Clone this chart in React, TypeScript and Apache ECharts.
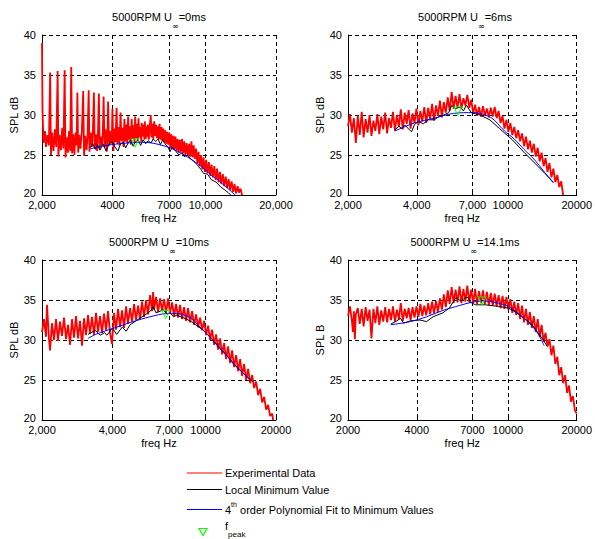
import React, { useEffect, useRef } from 'react';
import * as echarts from 'echarts';

const FONT = "'Liberation Sans', Arial, Helvetica, sans-serif";

// ---- text / axes ----
const speeds = ['0ms', '6ms', '10ms', '14.1ms'];
const yNames = ['SPL dB', 'SPL dB', 'SPL dB', 'SPL B'];
const xTickValues = [2000, 4000, 7000, 10000, 20000];
const xTickLabels = [
  ['2,000', '4000', '7000', '10,000', '20,000'],
  ['2,000', '4,000', '7,000', '10000', '20000'],
  ['2,000', '4,000', '7,000', '10000', '20000'],
  ['2000', '4000', '7000', '10000', '20000'],
];
const yMin = 20;
const yMax = 40;
const yStep = 5;

// ---- 0 m/s ----
const exp0: [number, number][] = [
  [2000, 39.0], [2010, 30.5], [2030, 26.5], [2060, 28.0], [2080, 26.0], [2110, 27.5], [2140, 26.2],
  [2167, 35.3], [2185, 25.0], [2210, 27.8], [2240, 25.5], [2270, 28.2], [2300, 26.0],
  [2333, 35.5], [2350, 24.8], [2380, 27.5], [2410, 25.6], [2440, 28.4], [2470, 25.8],
  [2500, 35.6], [2520, 24.7], [2550, 27.2], [2580, 25.3], [2610, 28.0], [2640, 25.5],
  [2667, 36.0], [2690, 25.2], [2720, 27.6], [2750, 25.0], [2780, 27.8], [2810, 26.2],
  [2833, 32.8], [2855, 25.3], [2890, 27.5], [2920, 25.8], [2960, 27.9],
  [3000, 33.0], [3025, 24.9], [3060, 27.4], [3100, 25.6], [3130, 27.2],
  [3167, 33.1], [3190, 25.4], [3230, 27.8], [3270, 26.0], [3300, 28.1],
  [3333, 32.8], [3360, 25.8], [3400, 27.6], [3440, 25.5], [3470, 27.9],
  [3500, 32.7], [3530, 25.8], [3570, 27.3], [3610, 26.2], [3640, 28.0],
  [3667, 32.3], [3700, 26.0], [3740, 28.2], [3780, 25.4], [3810, 27.6],
  [3833, 31.7], [3870, 26.2], [3910, 28.0], [3950, 26.4], [3980, 27.8],
  [4000, 30.8], [4040, 25.5], [4080, 28.3], [4120, 26.6],
  [4167, 30.9], [4200, 26.4], [4250, 28.5], [4290, 26.2],
  [4333, 30.3], [4370, 26.8], [4420, 28.4], [4460, 26.0],
  [4500, 29.5], [4540, 26.7], [4590, 28.8], [4630, 26.5],
  [4667, 29.8], [4710, 26.9], [4760, 28.6], [4800, 26.3],
  [4833, 29.5], [4880, 27.0], [4930, 28.7], [4970, 26.6],
  [5000, 29.8], [5050, 27.1], [5100, 28.9], [5140, 26.8],
  [5167, 29.6], [5220, 27.2], [5270, 28.5], [5310, 26.7],
  [5333, 29.0], [5380, 27.3], [5440, 28.8], [5480, 26.9],
  [5500, 29.2], [5550, 27.0], [5600, 28.6], [5640, 27.3],
  [5667, 28.8], [5720, 26.9], [5780, 28.7], [5833, 30.0], [5870, 27.2], [5930, 28.9],
  [5980, 27.0], [6030, 29.2], [6080, 27.4], [6140, 28.8], [6190, 27.1], [6250, 28.6],
  [6300, 27.0], [6360, 28.9], [6420, 26.9], [6480, 28.5], [6540, 26.8], [6600, 28.3],
  [6660, 26.6], [6720, 28.1], [6790, 26.4], [6860, 27.9], [6930, 26.3], [7000, 27.8],
  [7070, 25.9], [7140, 27.6], [7210, 25.8], [7290, 27.4], [7360, 25.7], [7440, 27.3],
  [7520, 25.6], [7600, 27.0], [7680, 25.3], [7760, 26.9], [7850, 25.4], [7930, 27.0],
  [8020, 25.2], [8110, 26.7], [8200, 25.0], [8300, 26.5], [8400, 24.9], [8500, 26.4],
  [8600, 24.8], [8700, 26.7], [8800, 24.7], [8900, 26.2], [9000, 24.5], [9110, 25.8],
  [9220, 24.0], [9330, 25.4], [9440, 23.6], [9560, 25.0], [9680, 23.2], [9800, 24.7],
  [9930, 22.9], [10060, 24.4], [10190, 22.7], [10330, 24.1], [10470, 22.4], [10610, 23.8],
  [10750, 22.2], [10900, 23.6], [11050, 21.9], [11200, 23.3], [11360, 21.6], [11520, 22.9],
  [11680, 21.4], [11850, 22.6], [12020, 21.1], [12190, 22.3], [12370, 20.9], [12550, 22.0],
  [12730, 20.6], [12920, 21.7], [13110, 20.4], [13300, 21.4], [13500, 20.2], [13700, 21.1],
  [13900, 20.3], [14100, 20.8], [14330, 20.0],
];
const min0: [number, number][] = [
  [3210, 25.9], [3300, 26.4], [3380, 25.7], [3450, 26.3], [3540, 25.6], [3640, 26.4],
  [3760, 25.5], [3870, 26.4], [3984, 26.7], [4100, 26.0], [4227, 25.5], [4330, 26.4],
  [4440, 26.6], [4560, 25.9], [4664, 26.5], [4780, 26.9], [4900, 26.1], [5000, 26.6],
  [5147, 26.9], [5280, 26.2], [5407, 26.9], [5550, 26.4], [5680, 26.8], [5850, 26.5],
  [5966, 27.0], [6130, 26.7], [6267, 27.0], [6420, 26.3], [6560, 26.9], [6700, 26.4],
  [6915, 26.0], [7050, 25.4], [7200, 26.0], [7450, 25.5], [7700, 25.0], [7940, 25.3],
  [8100, 24.8], [8350, 25.0], [8600, 24.6], [8900, 24.2], [9200, 23.8], [9550, 23.2],
  [9800, 22.7], [10200, 22.6], [10600, 21.9], [11100, 21.6], [11600, 21.0], [12000, 20.7],
  [12500, 20.3], [12800, 20.0],
];
const fit0: [number, number][] = [
  [3230, 25.8], [3611, 26.1], [3984, 26.3], [4617, 26.5], [5354, 26.6], [5908, 26.5],
  [6519, 26.2], [7053, 25.9], [7783, 25.3], [8421, 24.7], [9665, 23.5], [10665, 22.4],
  [11200, 22.0], [11769, 21.4], [12485, 20.8], [13245, 20.1], [13400, 20.0],
];
const peak0: [number, number] = [5000, 26.5];

// ---- 6 m/s ----
const exp6: [number, number][] = [
  [2000, 28.6], [2040, 30.1], [2080, 27.8], [2122, 29.6], [2164, 26.5], [2207, 29.9],
  [2251, 27.5], [2296, 30.4], [2341, 27.2], [2388, 29.5], [2435, 27.8], [2484, 30.0],
  [2533, 27.4], [2584, 29.3], [2635, 28.0], [2687, 30.1], [2741, 27.6], [2795, 29.8],
  [2851, 28.2], [2908, 30.3], [2965, 27.7], [3024, 29.6], [3084, 28.4], [3146, 30.4],
  [3208, 28.0], [3272, 30.0], [3337, 28.5], [3404, 30.7], [3471, 28.2], [3540, 30.3],
  [3611, 28.9], [3683, 30.6], [3756, 28.3], [3830, 30.2], [3907, 29.0], [3984, 30.8],
  [4064, 28.7], [4144, 30.5], [4227, 29.2], [4311, 31.0], [4397, 29.0], [4484, 30.9],
  [4573, 29.5], [4664, 31.4], [4757, 29.3], [4852, 31.2], [4948, 29.9], [5046, 31.8],
  [5147, 29.7], [5249, 31.6], [5354, 30.3], [5460, 32.2], [5569, 30.5], [5679, 32.9],
  [5792, 30.8], [5908, 32.4], [6025, 30.9], [6145, 32.6], [6267, 30.8], [6392, 32.1],
  [6519, 31.2], [6648, 32.5], [6781, 30.9], [6915, 31.9], [7053, 30.2], [7193, 31.3],
  [7336, 29.9], [7482, 31.0], [7631, 29.8], [7783, 31.1], [7938, 29.9], [8095, 30.8],
  [8256, 29.7], [8421, 30.9], [8588, 29.8], [8759, 31.0], [8933, 29.6], [9111, 30.5],
  [9292, 29.0], [9477, 29.9], [9665, 28.3], [9857, 29.4], [10053, 27.9], [10253, 29.0],
  [10457, 27.5], [10665, 28.5], [10877, 27.1], [11094, 28.1], [11314, 26.7], [11539, 27.7],
  [11769, 26.1], [12003, 27.3], [12242, 25.7], [12485, 26.8], [12733, 25.3], [12987, 26.4],
  [13245, 24.8], [13508, 25.9], [13777, 24.2], [14051, 25.3], [14330, 23.6], [14615, 24.6],
  [14906, 22.9], [15202, 24.0], [15505, 22.2], [15813, 23.3], [16128, 21.6], [16448, 22.5],
  [16775, 21.0], [17109, 21.7], [17449, 20.0],
];
const min6: [number, number][] = [
  [3208, 28.1], [3337, 28.6], [3437, 28.3], [3540, 28.75], [3790, 27.9], [3907, 28.8],
  [4064, 29.2], [4270, 28.9], [4484, 29.4], [4757, 29.4], [4997, 29.8], [5249, 30.0],
  [5514, 30.3], [5679, 31.2], [5908, 30.8], [6204, 31.0], [6392, 30.5], [6583, 31.25],
  [6915, 30.3], [7554, 30.0], [8335, 29.4], [9198, 28.3], [10457, 26.9], [11883, 25.2],
  [13637, 23.5], [15813, 21.6],
];
const fit6: [number, number][] = [
  [3208, 28.0], [3900, 29.0], [4757, 29.6], [5792, 30.2], [7053, 30.3], [8421, 29.7],
  [9665, 28.0], [10665, 27.0], [11769, 25.7], [12987, 24.5], [14330, 23.0], [15813, 21.5],
];
const peak6: [number, number] = [6040, 30.5];

// ---- 10 m/s ----
const exp10: [number, number][] = [
  [2000, 31.0], [2040, 32.6], [2080, 30.4], [2101, 34.4], [2143, 30.1], [2164, 28.7],
  [2207, 32.1], [2251, 30.0], [2296, 32.6], [2341, 29.9], [2388, 32.3], [2435, 30.5],
  [2484, 32.8], [2533, 30.1], [2584, 31.9], [2635, 29.4], [2687, 32.6], [2741, 30.3],
  [2795, 33.0], [2851, 30.2], [2908, 32.4], [2965, 29.3], [3024, 32.7], [3084, 30.6],
  [3146, 33.1], [3208, 30.8], [3272, 32.9], [3337, 30.6], [3404, 33.4], [3471, 31.0],
  [3540, 33.0], [3611, 30.9], [3683, 33.3], [3756, 31.2], [3830, 33.6], [3907, 30.9],
  [3984, 29.5], [4064, 33.4], [4144, 31.3], [4227, 33.9], [4311, 31.6], [4397, 33.7],
  [4484, 31.5], [4573, 34.2], [4664, 32.0], [4757, 34.0], [4852, 32.3], [4948, 34.5],
  [5046, 32.5], [5147, 34.3], [5249, 32.6], [5354, 34.8], [5460, 32.9], [5569, 35.0],
  [5679, 33.2], [5792, 35.6], [5908, 33.6], [5966, 36.0], [6025, 33.8], [6145, 35.4],
  [6267, 33.5], [6392, 35.2], [6519, 33.6], [6648, 35.1], [6781, 33.4], [6915, 35.2],
  [7053, 33.3], [7193, 34.7], [7336, 33.0], [7482, 34.5], [7631, 32.8], [7783, 34.4],
  [7938, 32.6], [8095, 34.1], [8256, 32.4], [8421, 34.0], [8588, 32.2], [8759, 33.6],
  [8933, 31.9], [9111, 33.2], [9292, 31.6], [9477, 32.8], [9665, 31.2], [9857, 32.4],
  [10053, 30.6], [10253, 31.8], [10457, 30.0], [10665, 31.3], [10877, 29.4], [11094, 30.7],
  [11314, 28.8], [11539, 30.2], [11769, 28.2], [12003, 29.6], [12242, 27.6], [12485, 29.2],
  [12733, 27.1], [12987, 28.7], [13245, 26.6], [13508, 28.1], [13777, 26.1], [14051, 27.6],
  [14330, 25.5], [14615, 27.0], [14906, 25.0], [15202, 26.4], [15505, 24.6], [15813, 25.6],
  [16128, 24.0], [16448, 24.8], [16775, 23.1], [17109, 23.9], [17449, 22.2], [17796, 22.9],
  [18150, 21.3], [18511, 21.9], [18879, 20.5], [19255, 20.8], [19450, 20.0],
];
const min10: [number, number][] = [
  [3146, 30.7], [3380, 31.2], [3540, 30.6], [3700, 30.9], [3790, 30.6], [4000, 31.5],
  [4170, 30.7], [4400, 31.6], [4580, 31.1], [4757, 31.9], [5046, 32.4], [5354, 32.9],
  [5620, 33.3], [5850, 33.7], [5966, 34.2], [6140, 33.4], [6400, 33.6], [6600, 33.8],
  [6850, 33.2], [7053, 33.4], [7300, 32.9], [7530, 33.1], [8000, 32.8], [8310, 32.6],
  [8800, 32.2], [9170, 31.8], [9700, 31.3], [10120, 30.8], [10800, 29.9], [11539, 28.9],
  [12300, 28.1], [13160, 27.1], [14100, 26.2], [15010, 25.4], [15900, 24.8],
];
const fit10: [number, number][] = [
  [3146, 30.2], [3390, 30.7], [4170, 31.6], [4900, 32.3], [5792, 32.9], [6830, 33.3],
  [7530, 33.3], [8588, 32.8], [9477, 31.6], [10500, 30.3], [11160, 29.5], [12300, 28.1],
  [13160, 27.0], [14300, 26.0], [15600, 25.0],
];
const peak10: [number, number] = [6760, 33.2];

// ---- 14.1 m/s ----
const exp14: [number, number][] = [
  [2000, 33.0], [2040, 34.2], [2080, 32.4], [2101, 31.0], [2122, 33.6], [2143, 30.1],
  [2164, 33.2], [2207, 34.0], [2251, 32.0], [2296, 33.9], [2341, 31.7], [2388, 34.1],
  [2435, 32.4], [2484, 33.8], [2533, 30.2], [2584, 33.9], [2635, 32.1], [2687, 34.2],
  [2741, 31.9], [2795, 33.7], [2851, 32.3], [2908, 34.1], [2965, 32.2], [3024, 33.9],
  [3084, 32.5], [3146, 34.2], [3208, 32.3], [3272, 33.8], [3337, 32.6], [3404, 34.6],
  [3471, 32.4], [3540, 33.9], [3611, 32.7], [3683, 34.0], [3756, 32.5], [3830, 34.1],
  [3907, 32.8], [3984, 34.2], [4064, 32.9], [4144, 34.5], [4227, 33.0], [4311, 34.3],
  [4397, 33.1], [4484, 34.6], [4573, 33.2], [4664, 34.8], [4757, 33.3], [4852, 34.9],
  [4948, 33.5], [5046, 35.2], [5147, 33.8], [5249, 35.7], [5354, 34.1], [5460, 36.2],
  [5569, 34.5], [5679, 36.6], [5792, 34.6], [5908, 36.3], [6025, 34.7], [6145, 36.7],
  [6267, 34.6], [6392, 36.4], [6519, 34.8], [6648, 36.8], [6781, 34.7], [6915, 36.3],
  [7053, 34.6], [7193, 36.4], [7336, 34.5], [7482, 36.1], [7631, 34.6], [7783, 36.2],
  [7938, 34.5], [8095, 36.0], [8256, 34.4], [8421, 35.9], [8588, 34.3], [8759, 35.8],
  [8933, 34.2], [9111, 35.6], [9292, 34.0], [9477, 35.5], [9665, 33.9], [9857, 35.4],
  [10053, 33.8], [10253, 35.1], [10457, 33.4], [10665, 34.8], [10877, 33.1], [11094, 34.6],
  [11314, 32.6], [11539, 34.3], [11769, 32.2], [12003, 33.9], [12242, 31.9], [12485, 33.5],
  [12733, 31.5], [12987, 33.0], [13245, 31.0], [13508, 32.6], [13777, 30.4], [14051, 31.9],
  [14330, 29.8], [14615, 30.9], [14906, 29.2], [15202, 30.1], [15505, 28.1], [15813, 29.3],
  [16128, 27.0], [16448, 27.9], [16775, 25.6], [17109, 26.6], [17449, 24.6], [17796, 25.6],
  [18150, 23.4], [18511, 24.3], [18879, 22.3], [19255, 23.0], [19638, 21.2], [20000, 20.8],
];
const min14: [number, number][] = [
  [3075, 32.0], [3230, 32.3], [3390, 32.7], [3505, 32.1], [3745, 32.4], [4130, 32.5],
  [4410, 32.3], [4710, 32.9], [5200, 33.4], [5550, 34.0], [5780, 34.8], [5925, 35.3],
  [6220, 34.9], [6540, 35.3], [6720, 35.3], [6870, 34.7], [7215, 34.4], [7960, 34.4],
  [9085, 34.2], [10053, 34.0], [10800, 33.5], [11800, 32.7], [12700, 32.0], [13470, 31.0],
  [14300, 30.0], [14860, 29.2],
];
const fit14: [number, number][] = [
  [3075, 31.9], [3745, 32.3], [4410, 32.9], [5200, 33.7], [6130, 34.3], [6900, 34.7],
  [7800, 34.9], [9085, 34.6], [10053, 34.2], [10800, 33.6], [11800, 32.7], [12990, 31.5],
  [13800, 30.4], [14400, 29.3],
];
const peak14: [number, number] = [7700, 34.9];

const expData = [exp0, exp6, exp10, exp14];
const minData = [min0, min6, min10, min14];
const fitData = [fit0, fit6, fit10, fit14];
const peakData = [peak0, peak6, peak10, peak14];

const legendNames = [
  'Experimental Data',
  'Local Minimum Value',
  '4th order Polynomial Fit to Minimum Values',
  'f peak',
];

export default function App() {
  const ref = useRef<HTMLDivElement>(null);

  useEffect(() => {
    const chart = echarts.init(ref.current!, null, { renderer: 'svg', width: 595, height: 539 });

    const gridPos = [
      { left: 42, top: 35 },
      { left: 348, top: 35 },
      { left: 42, top: 260 },
      { left: 348, top: 260 },
    ];
    const W = 234;
    const H = 160;
    const dash = { color: '#000', width: 1, type: [4, 3] as any };
    const txt = { color: '#000', fontFamily: FONT, fontSize: 11 };

    const grids = gridPos.map((g) => ({ left: g.left, top: g.top, width: W, height: H, containLabel: false }));

    const xAxes = gridPos.map((_, i) => ({
      gridIndex: i,
      type: 'log',
      logBase: 10,
      min: 2000,
      max: 20000,
      name: 'freq Hz',
      nameLocation: 'middle',
      nameGap: 17,
      nameTextStyle: txt,
      axisLine: { show: true, onZero: false, lineStyle: { color: '#000', width: 1 } },
      axisTick: { show: true, inside: true, length: 3, customValues: xTickValues, lineStyle: { color: '#000' } },
      axisLabel: {
        show: true,
        ...txt,
        lineHeight: 9,
        margin: 5,
        customValues: xTickValues,
        showMinLabel: true,
        showMaxLabel: true,
        formatter: (v: number) => {
          const k = xTickValues.findIndex((t) => Math.abs(t - v) < t * 0.01);
          return k >= 0 ? xTickLabels[i][k] : '';
        },
      },
      splitLine: { show: true, lineStyle: dash },
      minorTick: { show: false },
      minorSplitLine: { show: false },
    }));

    const yAxes = gridPos.map((_, i) => ({
      gridIndex: i,
      type: 'value',
      min: yMin,
      max: yMax,
      interval: yStep,
      name: yNames[i],
      nameLocation: 'middle',
      nameGap: 18,
      nameTextStyle: txt,
      axisLine: { show: true, onZero: false, lineStyle: { color: '#000', width: 1 } },
      axisTick: { show: true, inside: true, length: 3, lineStyle: { color: '#000' } },
      axisLabel: {
        ...txt,
        lineHeight: 8,
        margin: 6,
        formatter: (v: number) => (v === yMin ? `{lo|${v}}` : `${v}`),
        rich: { lo: { ...txt, lineHeight: 8, padding: [0, 0, 5, 0] } },
      },
      splitLine: { show: true, lineStyle: dash },
    }));

    const series: any[] = [];
    for (let i = 0; i < 4; i++) {
      series.push({
        name: legendNames[0], type: 'line', xAxisIndex: i, yAxisIndex: i, data: expData[i],
        symbol: 'none', showSymbol: false, lineStyle: { color: '#ff0000', width: 1.8 }, z: 3,
      });
      series.push({
        name: legendNames[1], type: 'line', xAxisIndex: i, yAxisIndex: i, data: minData[i],
        symbol: 'none', showSymbol: false, lineStyle: { color: '#000000', width: 1 }, z: 4,
      });
      series.push({
        name: legendNames[2], type: 'line', xAxisIndex: i, yAxisIndex: i, data: fitData[i],
        symbol: 'none', showSymbol: false, smooth: 0.3, lineStyle: { color: '#0000ff', width: 1 }, z: 5,
      });
      series.push({
        name: legendNames[3], type: 'scatter', xAxisIndex: i, yAxisIndex: i, data: [peakData[i]],
        symbol: 'triangle', symbolRotate: 180, symbolSize: 8,
        itemStyle: { color: 'rgba(0,0,0,0)', borderColor: '#00ff00', borderWidth: 1.2 }, z: 6,
      });
    }

    const titles = gridPos.map((g, i) => ({
      text: `{a|5000RPM U}{s|∞}{a|=${speeds[i]}}`,
      left: g.left + W / 2,
      top: g.top - 24,
      textAlign: 'center',
      padding: 0,
      textStyle: {
        ...txt,
        fontWeight: 'normal',
        rich: {
          a: { ...txt, lineHeight: 13, verticalAlign: 'top' },
          s: { color: '#000', fontFamily: "'DejaVu Sans', sans-serif", fontSize: 8, lineHeight: 9, verticalAlign: 'top', padding: [11, 0, 0, 0] },
        },
      },
    }));

    const lx1 = 187;
    const lx2 = 222;
    const tx = 225;
    const legendFont = { fill: '#000', fontFamily: FONT, fontSize: 11 };
    const graphic: any[] = [
      { type: 'line', shape: { x1: lx1, y1: 473, x2: lx2, y2: 473 }, style: { stroke: '#ff0000', lineWidth: 1 } },
      { type: 'text', x: tx, y: 473, style: { ...legendFont, text: legendNames[0], verticalAlign: 'middle' } },
      { type: 'line', shape: { x1: lx1, y1: 489.5, x2: lx2, y2: 489.5 }, style: { stroke: '#000000', lineWidth: 1 } },
      { type: 'text', x: tx, y: 489.5, style: { ...legendFont, text: legendNames[1], verticalAlign: 'middle' } },
      { type: 'line', shape: { x1: lx1, y1: 509.5, x2: lx2, y2: 509.5 }, style: { stroke: '#0000ff', lineWidth: 1 } },
      {
        type: 'text', x: tx, y: 502,
        style: {
          ...legendFont,
          text: '{n|4}{p|th}{n| order Polynomial Fit to Minimum Values}',
          verticalAlign: 'top',
          rich: {
            n: { fill: '#000', fontFamily: FONT, fontSize: 11, lineHeight: 13, verticalAlign: 'bottom' },
            p: { fill: '#000', fontFamily: FONT, fontSize: 7, lineHeight: 8, verticalAlign: 'bottom', padding: [0, 0, 7, 0] },
          },
        },
      },
      {
        type: 'polygon',
        shape: { points: [[199, 528.5], [207, 528.5], [203, 535.5]] },
        style: { fill: 'none', stroke: '#00ff00', lineWidth: 1.2 },
      },
      {
        type: 'text', x: tx, y: 520.5,
        style: {
          ...legendFont,
          text: '{f|f}{s|peak}',
          verticalAlign: 'top',
          rich: {
            f: { fill: '#000', fontFamily: FONT, fontSize: 11, lineHeight: 13, verticalAlign: 'top' },
            s: { fill: '#000', fontFamily: FONT, fontSize: 8, lineHeight: 9, verticalAlign: 'top', padding: [10, 0, 0, 0] },
          },
        },
      },
    ];

    chart.setOption({
      animation: false,
      backgroundColor: '#ffffff',
      title: titles,
      grid: grids,
      xAxis: xAxes,
      yAxis: yAxes,
      series,
      graphic,
    } as any);

    return () => chart.dispose();
  }, []);

  return (
    <div
      ref={ref}
      style={{ position: 'fixed', left: 0, top: 0, width: 595, height: 539, background: '#fff' }}
    />
  );
}
